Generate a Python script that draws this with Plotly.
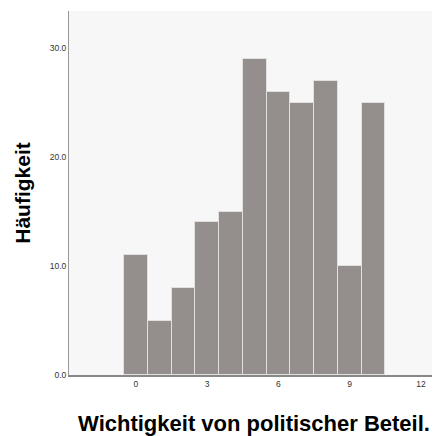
import plotly.graph_objects as go

categories = [0, 1, 2, 3, 4, 5, 6, 7, 8, 9, 10]
counts = [11, 5, 8, 14, 15, 29, 26, 25, 27, 10, 25]
x_ticks = [0, 3, 6, 9, 12]
y_ticks = [0, 10, 20, 30]
y_tick_labels = ["0.0", "10.0", "20.0", "30.0"]

fig = go.Figure()
fig.add_trace(go.Bar(
    x=categories, y=counts, width=1,
    marker=dict(color="#948f8d", line=dict(color="#e2e0df", width=1)),
))

fig.update_layout(
    width=432, height=428,
    margin=dict(l=61, r=1, t=3, b=61, autoexpand=False),
    paper_bgcolor="white", plot_bgcolor="#f7f7f7",
    showlegend=False, bargap=0,
    font=dict(family="Liberation Sans, Arial, sans-serif", color="#222"),
)
fig.update_xaxes(
    range=[-2.82, 12.76], tickvals=x_ticks, ticktext=[str(v) for v in x_ticks],
    showgrid=False, zeroline=False, showline=True, linecolor="#888", linewidth=1.5,
    ticks="", tickfont=dict(size=8.5, color="#333"),
    title=dict(text="<b>Wichtigkeit von politischer Beteil.</b>", font=dict(size=22, color="#000"), standoff=30),
)
fig.update_yaxes(
    range=[0, 33.4], tickvals=y_ticks, ticktext=y_tick_labels,
    showgrid=False, zeroline=False, showline=True, linecolor="#999", linewidth=1,
    ticks="", tickfont=dict(size=8.5, color="#333"),
    title=dict(text="<b>Häufigkeit</b>", font=dict(size=21, color="#000"), standoff=13),
)
fig.write_html("out.html")
